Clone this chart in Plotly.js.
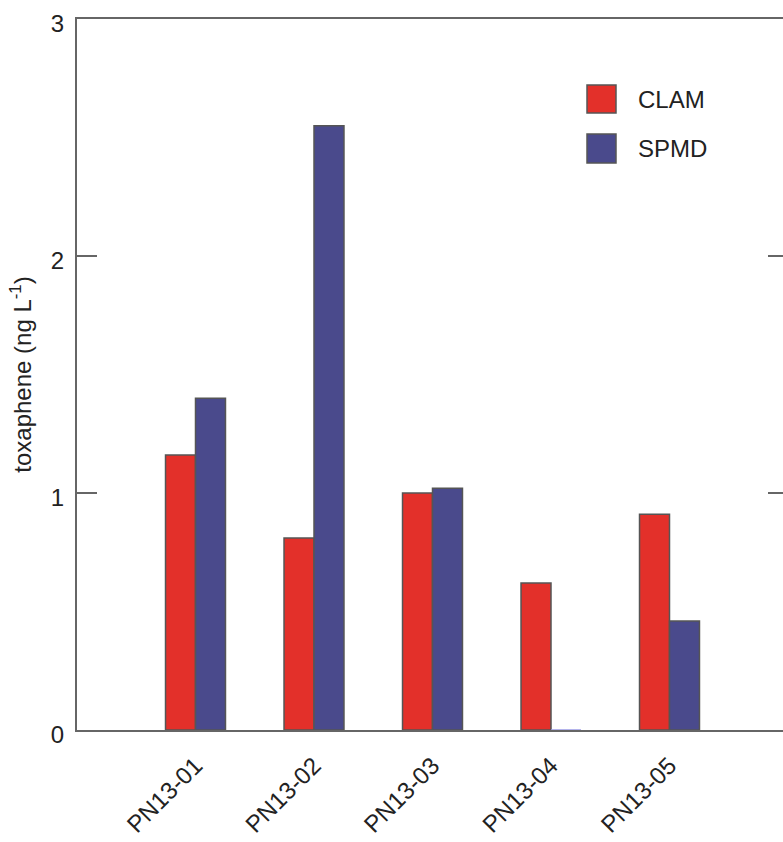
<!DOCTYPE html>
<html>
<head>
<meta charset="utf-8">
<script src="https://cdn.plot.ly/plotly-3.0.1.min.js"></script>
<style>
html,body{margin:0;padding:0;overflow:hidden;background:#fff;}
#chart{width:800px;height:842px;}
</style>
</head>
<body>
<div id="chart"></div>
<script>
const categories = ["PN13-01", "PN13-02", "PN13-03", "PN13-04", "PN13-05"];
const clamValues = [1.16, 0.81, 1.00, 0.62, 0.91];
const spmdValues = [1.40, 2.55, 1.02, 0, 0.46];
const seriesNames = ["CLAM", "SPMD"];
const yTickValues = [0, 1, 2, 3];
const yTickLabels = ["0", "1", "2", "3"];

const RED = "#E3302A";
const BLUE = "#4A4A8C";
const OUTLINE = "#555555";
const FONT = "Liberation Sans, Arial, sans-serif";

const spmdOutline = spmdValues.map(v => v === 0 ? "#9c9ce6" : OUTLINE);

const traces = [
  {
    type: "bar", name: seriesNames[0], x: categories, y: clamValues,
    marker: {color: RED, line: {color: OUTLINE, width: 1.5}},
    showlegend: false, hoverinfo: "x+y"
  },
  {
    type: "bar", name: seriesNames[1], x: categories, y: spmdValues,
    marker: {color: BLUE, line: {color: spmdOutline, width: 1.5}},
    showlegend: false, hoverinfo: "x+y"
  }
];

// legend drawn manually (large swatches)
const L = 77, W = 711, B = 730, H = 711;
function px(x){ return (x - L) / W; }
function py(y){ return (B - y) / H; }

const shapes = [
  {type: "rect", xref: "paper", yref: "paper", x0: px(587), x1: px(616), y0: py(113), y1: py(85),
   fillcolor: RED, line: {color: OUTLINE, width: 1.5}},
  {type: "rect", xref: "paper", yref: "paper", x0: px(587), x1: px(616), y0: py(163), y1: py(134),
   fillcolor: BLUE, line: {color: OUTLINE, width: 1.5}}
];
const annotations = [
  {xref: "paper", yref: "paper", x: px(636), y: py(99), xanchor: "left", yanchor: "middle",
   text: seriesNames[0], showarrow: false, font: {family: FONT, size: 24, color: "#222"}},
  {xref: "paper", yref: "paper", x: px(636), y: py(148), xanchor: "left", yanchor: "middle",
   text: seriesNames[1], showarrow: false, font: {family: FONT, size: 24, color: "#222"}}
];

const layout = {
  width: 800, height: 842,
  margin: {l: 77, r: 12, t: 19, b: 112},
  paper_bgcolor: "#fff", plot_bgcolor: "#fff",
  barmode: "group", bargap: 0.494, bargroupgap: 0,
  showlegend: false,
  font: {family: FONT, color: "#222"},
  xaxis: {
    type: "category", range: [-1, 5],
    showgrid: false, zeroline: false,
    showline: true, linecolor: "#666", linewidth: 2, mirror: true,
    ticks: "", tickangle: -45, ticklabelstandoff: 10,
    tickfont: {family: FONT, size: 24, color: "#222"}
  },
  yaxis: {
    range: [0, 3], showgrid: false, zeroline: false,
    showline: true, linecolor: "#666", linewidth: 2, mirror: "ticks",
    ticks: "inside", ticklen: 20, tickwidth: 1.5, tickcolor: "#666",
    tickvals: yTickValues, ticktext: yTickLabels, ticklabelstandoff: 6, ticklabelshift: 5,
    tickfont: {family: FONT, size: 24, color: "#222"},
    title: {text: "toxaphene (ng L<sup>-1</sup>)", font: {family: FONT, size: 24, color: "#222"}, standoff: 12}
  },
  shapes: shapes,
  annotations: annotations
};

Plotly.newPlot("chart", traces, layout, {displayModeBar: false, staticPlot: true});
</script>
</body>
</html>
